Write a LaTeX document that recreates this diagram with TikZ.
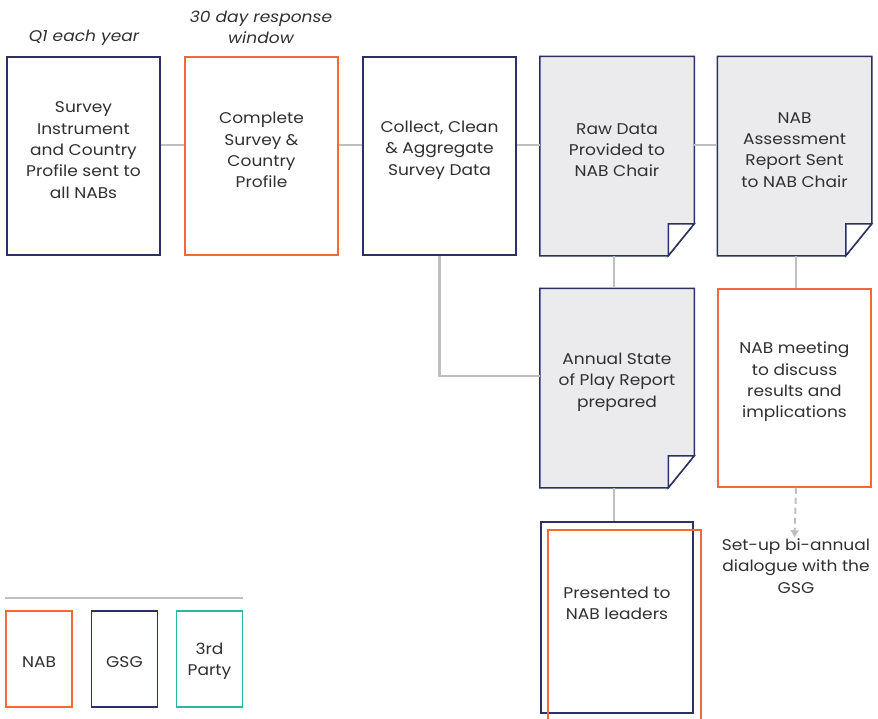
\documentclass[tikz,border=0pt]{standalone}
\usepackage{fontspec}
\setmainfont{Poppins}[FakeStretch=1.1]
\usetikzlibrary{positioning,arrows.meta}
\definecolor{navy}{HTML}{2B3163}
\definecolor{nabor}{HTML}{F26A3B}
\definecolor{tealthree}{HTML}{2DB5A3}
\definecolor{sheet}{HTML}{EBEBEE}
\definecolor{linkgray}{HTML}{BFBFBF}
\definecolor{ink}{HTML}{303030}
% folded corner on a sheet node
\newcommand{\dogear}[1]{%
\draw[line width=1.5pt,draw=navy,fill=sheet,line join=miter]
 (#1.north west) -- (#1.north east) -- ([yshift=32pt]#1.south east)
 -- ([xshift=-26pt]#1.south east) -- (#1.south west) -- cycle;
\draw[line width=1.5pt,draw=navy,fill=white,line join=miter]
 ([yshift=32pt]#1.south east) -- ([xshift=-26pt,yshift=32pt]#1.south east)
 -- ([xshift=-26pt]#1.south east) -- cycle;}

\begin{document}
\begin{tikzpicture}[x=1pt,y=-1pt,
 box/.style={rectangle,minimum width=153pt,minimum height=198pt,line width=1.5pt,inner sep=0pt},
 gsg/.style={box,draw=navy},
 nab/.style={box,draw=nabor},
 sheetbox/.style={box},
 key/.style={rectangle,minimum width=66pt,minimum height=96pt,line width=1.5pt,inner sep=0pt},
 txt/.style={text=ink,align=center,font=\fontsize{15.5}{21.3}\selectfont},
 note/.style={txt,font=\fontsize{15.5}{21.3}\selectfont\itshape},
 link/.style={draw=linkgray,line width=2.5pt}]
\useasboundingbox (0,0) rectangle (878,718);

% top notes
\node[note] (q1) at (84,38) {Q1 each year};
\node[note] (window) at (261,27) {30 day response\\window};

% first row
\node[gsg] (b1) at (83.5,156) {};
\node[nab] (b2) at (261.5,156) {};
\node[gsg] (b3) at (439.5,156) {};
\node[sheetbox] (b4) at (617,156) {};
\node[sheetbox] (b5) at (794.5,156) {};
% second row
\node[sheetbox] (b6) at (617,388) {};
\node[nab] (b7) at (794.5,388) {};
% bottom
\node[rectangle,minimum width=152pt,minimum height=191pt,line width=1.5pt,draw=navy] (b8) at (617,617.5) {};
\node[rectangle,minimum width=153pt,minimum height=200pt,line width=1.5pt,draw=nabor] (b8nab) at (624.5,630) {};

\dogear{b4}
\dogear{b5}
\dogear{b6}

% connectors
\draw[link] ([yshift=11pt]b1.east) -- ([yshift=11pt]b2.west);
\draw[link] ([yshift=11pt]b2.east) -- ([yshift=11pt]b3.west);
\draw[link] ([yshift=11pt]b3.east) -- ([yshift=11pt]b4.west);
\draw[link] ([yshift=11pt]b4.east) -- ([yshift=11pt]b5.west);
\draw[link] ([xshift=-3pt]b4.south) -- ([xshift=-3pt]b6.north);
\draw[link] (b3.south) |- ([yshift=12pt]b6.west);
\draw[link] ([xshift=1.5pt]b5.south) -- ([xshift=1.5pt]b7.north);
\draw[link] ([xshift=-3pt]b6.south) -- ([xshift=-3pt]b8.north);

% box texts
\node[txt] (t1) at (83.5,150) {Survey\\Instrument\\and Country\\Profile sent to\\all NABs};
\node[txt] (t2) at (261.5,150) {Complete\\Survey \&\\Country\\Profile};
\node[txt] (t3) at (439.5,150) {Collect, Clean\\\& Aggregate\\Survey Data};
\node[txt] (t4) at (617,150) {Raw Data\\Provided to\\NAB Chair};
\node[txt] (t5) at (794.5,150) {NAB\\Assessment\\Report Sent\\to NAB Chair};
\node[txt] (t6) at (617,382) {Annual State\\of Play Report\\prepared};
\node[txt] (t7) at (794.5,382) {NAB meeting\\to discuss\\results and\\implications};
\node[txt] (t8) at (617,603) {Presented to\\NAB leaders};

% dashed follow-up
\node[txt] (setup) at (796,566) {Set-up bi-annual\\dialogue with the\\GSG};
\draw[draw=linkgray,line width=2pt,dash pattern=on 6pt off 4pt,-{Triangle[length=7pt,width=8pt]}] ([xshift=1.5pt]b7.south) -- ([yshift=-2pt]setup.north -| b7.south);

% legend
\draw[link] (5,598) coordinate (lg1) -- (243,598) coordinate (lg2);
\node[key,draw=nabor] (knab) at (39,659) {};
\node[key,draw=navy] (kgsg) at (124.5,659) {};
\node[key,draw=tealthree] (kthird) at (209.5,659) {};
\node[txt] (lnab) at (39,662) {NAB};
\node[txt] (lgsg) at (124.5,662) {GSG};
\node[txt] (lthird) at (209.5,661) {3rd\\Party};
\end{tikzpicture}
\end{document}
